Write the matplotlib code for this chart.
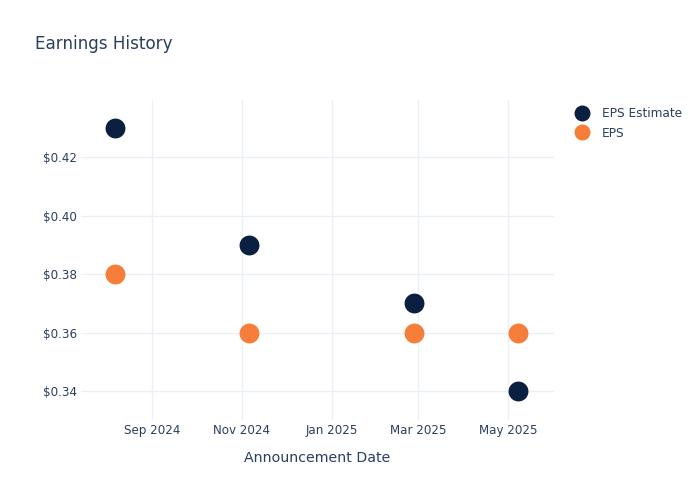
import matplotlib
matplotlib.use("Agg")
import matplotlib.pyplot as plt
import matplotlib.dates as mdates
from matplotlib.lines import Line2D
import datetime as dt

dates = ["2024-08-07", "2024-11-06", "2025-02-26", "2025-05-08"]
eps_estimate = [0.43, 0.39, 0.37, 0.34]
eps_actual = [0.38, 0.36, 0.36, 0.36]
y_ticks = [0.34, 0.36, 0.38, 0.40, 0.42]

navy = "#0b1f41"
orange = "#f57f3a"
text_color = "#2a3f5f"
grid_color = "#ebf0f8"

x = [dt.datetime.strptime(d, "%Y-%m-%d") for d in dates]

fig = plt.figure(figsize=(7, 5), dpi=100)
ax = fig.add_axes([81/700, 1-420/500, (554-81)/700, (420-100)/500])

ax.scatter(x, eps_estimate, s=205, color=navy, zorder=3, linewidths=0, label="EPS Estimate")
ax.scatter(x, eps_actual, s=205, color=orange, zorder=3, linewidths=0, label="EPS")

ax.set_xlim(dt.datetime(2024, 7, 14, 16), dt.datetime(2025, 6, 1, 5))
ax.set_ylim(0.3301, 0.4395)
ax.set_yticks(y_ticks)
ax.yaxis.set_major_formatter(matplotlib.ticker.FuncFormatter(lambda v, p: f"${v:.2f}"))
ax.xaxis.set_major_locator(mdates.MonthLocator(bymonth=[1, 3, 5, 9, 11]))
ax.xaxis.set_major_formatter(mdates.DateFormatter("%b %Y"))

for s in ax.spines.values():
    s.set_visible(False)
ax.grid(True, color=grid_color, linewidth=1)
ax.set_axisbelow(True)
ax.tick_params(length=0, labelsize=8.6, colors=text_color)
ax.tick_params(axis="y", pad=3)
ax.tick_params(axis="x", pad=3)

ax.set_xlabel("Announcement Date", fontsize=10.2, color=text_color, labelpad=10)

fig.text(35/700, 1-44/500, "Earnings History", fontsize=12.1, color=text_color, va="center", ha="left")

handles = [
    Line2D([], [], marker="o", linestyle="", markersize=11.5, color=navy, markeredgewidth=0),
    Line2D([], [], marker="o", linestyle="", markersize=11.5, color=orange, markeredgewidth=0),
]
fig.legend(handles, ["EPS Estimate", "EPS"], loc="upper left", bbox_to_anchor=(572/700, 1-107/500),
           frameon=False, fontsize=8.7, labelcolor=text_color, handletextpad=0.9,
           borderaxespad=0, borderpad=0, labelspacing=0.55, handlelength=1.6)

fig.savefig("out.png", dpi=100)
